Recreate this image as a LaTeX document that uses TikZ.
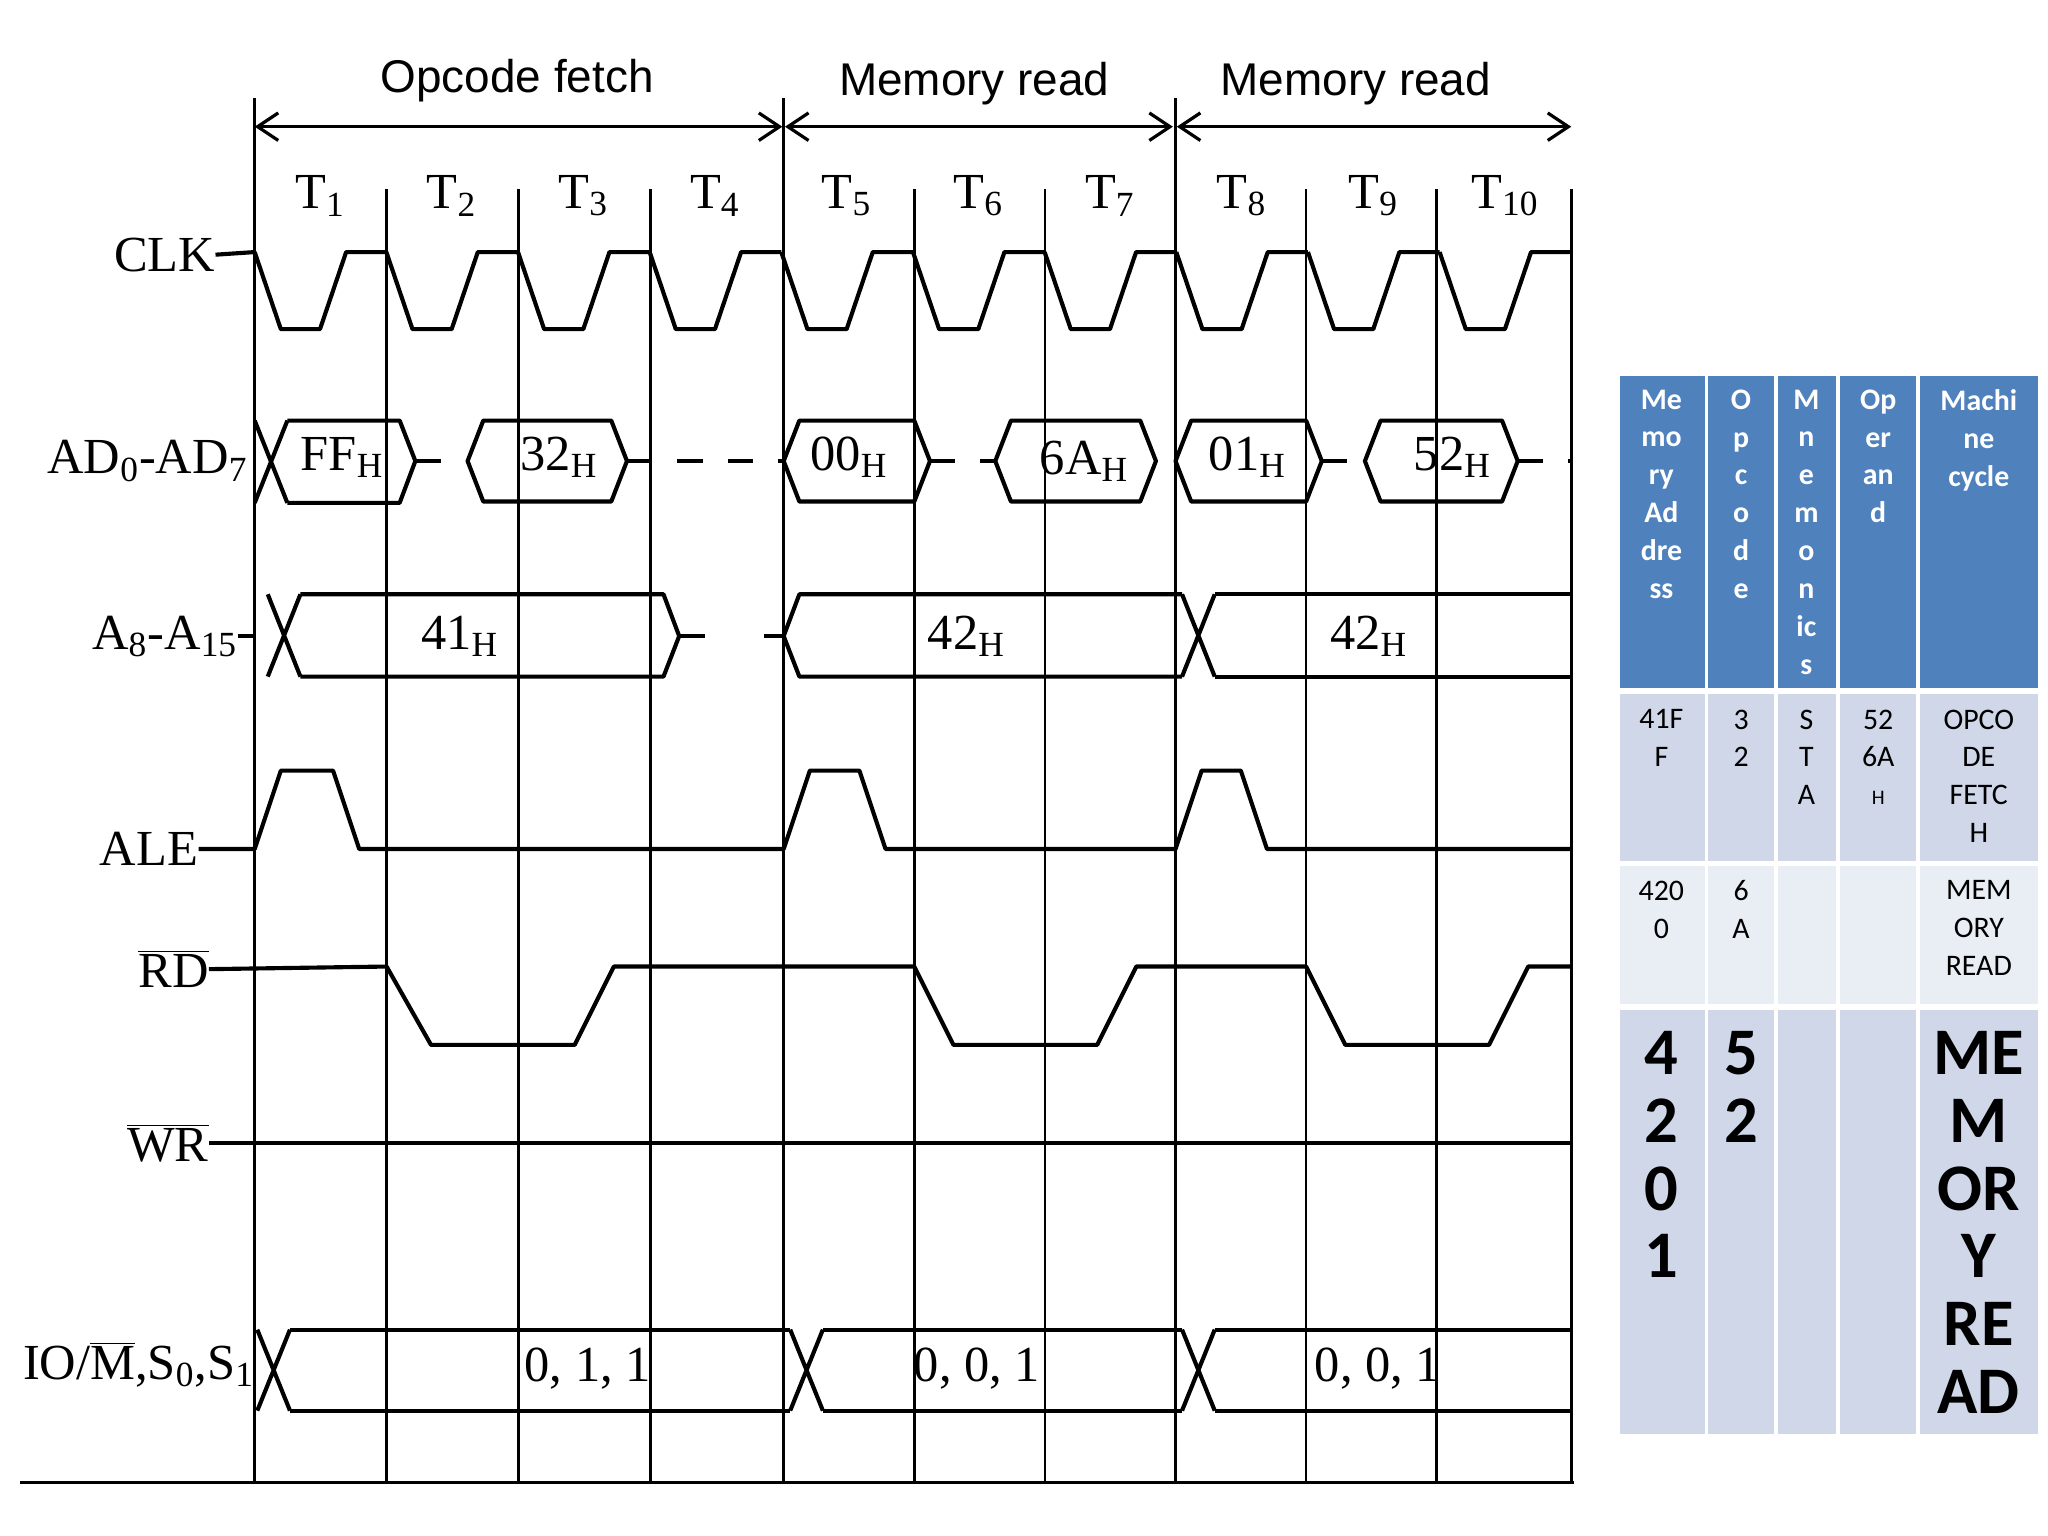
\documentclass[tikz,border=0pt]{standalone}
\usepackage{fontspec}
\setmainfont{Liberation Serif}
\newfontfamily\tabfont{Carlito}
\newfontfamily\headfont{Liberation Sans}
\usetikzlibrary{arrows.meta,positioning}
\definecolor{hdblue}{HTML}{4F81BD}
\definecolor{rowa}{HTML}{CFD7E8}
\definecolor{rowb}{HTML}{E9EDF4}

\newcommand{\busseg}[3]{% x1, x2, centre y
  \draw[wave] (#1,#3) -- ({#1+12},{#3-31}) -- ({#2-12},{#3-31}) -- (#2,#3)
    -- ({#2-12},{#3+31}) -- ({#1+12},{#3+31}) -- cycle;}
\newcommand{\sbs}[1]{\textsubscript{#1}}

\begin{document}
\begin{tikzpicture}[x=0.02cm, y=-0.02cm,
    every node/.style={inner sep=0pt},
    wave/.style={line width=1.8pt, line join=round},
    grid/.style={line width=1.1pt},
    sig/.style={font=\fontsize{22}{24}\selectfont, anchor=east},
    tee/.style={font=\fontsize{22}{24}\selectfont},
    phase/.style={font=\headfont\fontsize{20}{22}\selectfont},
    span/.style={line width=1.4pt, {Straight Barb[length=9pt,width=12pt]}-{Straight Barb[length=9pt,width=12pt]}},
    dashbus/.style={line width=1.8pt, dash pattern=on 11pt off 11pt},
    hd/.style={fill=hdblue, draw=none},
    cella/.style={fill=rowa, draw=none},
    cellb/.style={fill=rowb, draw=none},
    celltxt/.style={anchor=north, align=center, font=\tabfont\fontsize{13}{16.5}\selectfont},
    bigtxt/.style={anchor=north, align=center, font=\tabfont\bfseries\fontsize{29}{29.6}\selectfont}
]
\useasboundingbox (0,0) rectangle (1568,1176);

% machine cycles
\node[phase] (ofetch) at (396,62) {Opcode fetch};
\node[phase] (mread1) at (746,64) {Memory read};
\node[phase] (mread2) at (1038,64) {Memory read};
\draw[span] (195,97) -- (599,97);
\draw[span] (601,97) -- (898,97);
\draw[span] (901,97) -- (1203,97);
\foreach \x in {195,600,900}
    \draw[grid] (\x,75) -- (\x,145);

% T states
\foreach \x in {195,296,397,498,600,700,800,900,1000,1100,1203}
    \draw[grid] (\x,145) -- (\x,1135);
\foreach \i [count=\n] in {0,...,9}
    \node[tee] (t\n) at ({245+100.8*\i},150) {T\sbs{\n}};
\draw[grid] (15,1135) -- (1205,1135);

% CLK
\node[sig] (clk) at (165,195) {CLK};
\draw[wave] (clk.east) -- (195,193);
\foreach \i in {0,...,9}
    \draw[wave] ({195+100.8*\i},193) -- ({215+100.8*\i},252) -- ({245+100.8*\i},252)
        -- ({265+100.8*\i},193) -- ({295.8+100.8*\i},193);

% AD0-AD7
\node[sig] (ad) at (190,353) {AD\sbs{0}-AD\sbs{7}};
\draw[wave] (195,322) -- (220,385) (195,385) -- (220,322);
\draw[wave] (220,322) -- (306,322) -- (318,353) -- (306,385) -- (220,385);
\node[tee] (ff) at (262,350) {FF\sbs{H}};
\busseg{358}{480}{353}
\node[tee] (v32) at (428,350) {32\sbs{H}};
\busseg{600}{712}{353}
\node[tee] (v00) at (650,350) {00\sbs{H}};
\busseg{762}{885}{353}
\node[tee] (v6a) at (830,353) {6A\sbs{H}};
\busseg{900}{1012}{353}
\node[tee] (v01) at (955,350) {01\sbs{H}};
\busseg{1045}{1162}{353}
\node[tee] (v52) at (1112,350) {52\sbs{H}};
\foreach \a/\b in {318/358,480/600,712/762,1012/1045,1162/1203}
    \draw[dashbus] (\a,353) -- (\b,353);

% A8-A15
\node[sig] (ah) at (182,487) {A\sbs{8}-A\sbs{15}};
\draw[wave] (ah.east) -- (195,487);
\draw[wave] (205,455) -- (230,518) (205,518) -- (230,455);
\draw[wave] (230,455) -- (508,455) -- (520,487) -- (508,518) -- (230,518);
\draw[wave] (520,487) -- (540,487) (585,487) -- (600,487);
\draw[wave] (905,455) -- (612,455) -- (600,487) -- (612,518) -- (905,518);
\draw[wave] (905,455) -- (930,518) (905,518) -- (930,455);
\draw[wave] (930,455) -- (1203,455) (930,518) -- (1203,518);
\node[tee] (v41) at (352,487) {41\sbs{H}};
\node[tee] (v42a) at (740,487) {42\sbs{H}};
\node[tee] (v42b) at (1048,487) {42\sbs{H}};

% ALE
\node[sig] (ale) at (152,650) {ALE};
\draw[wave] (ale.east) -- (195,650) -- (215,590) -- (255,590) -- (275,650) -- (600,650)
    -- (620,590) -- (658,590) -- (678,650) -- (900,650) -- (920,590) -- (950,590)
    -- (970,650) -- (1203,650);

% RD
\node[sig] (rd) at (160,742) {$\overline{\mbox{RD}}$};
\draw[wave] (rd.east) -- (296,740) -- (330,800) -- (440,800) -- (470,740) -- (700,740)
    -- (730,800) -- (840,800) -- (870,740) -- (1000,740) -- (1030,800) -- (1140,800)
    -- (1170,740) -- (1203,740);

% WR
\node[sig] (wr) at (160,875) {$\overline{\mbox{WR}}$};
\draw[wave] (wr.east) -- (1203,875);

% IO/M, S0, S1
\node[sig] (iom) at (195,1045) {IO/$\overline{\mbox{M}}$,S\sbs{0},S\sbs{1}};
\foreach \a in {197,605,905}
    \draw[wave] (\a,1018) -- ({\a+25},1080) (\a,1080) -- ({\a+25},1018);
\foreach \a/\b in {222/605,630/905,930/1203}
    \draw[wave] (\a,1018) -- (\b,1018) (\a,1080) -- (\b,1080);
\node[tee] (s011) at (450,1048) {0, 1, 1};
\node[tee] (s001a) at (748,1048) {0, 0, 1};
\node[tee] (s001b) at (1055,1048) {0, 0, 1};

% table
\foreach \l/\r in {1240/1305,1308/1358,1361/1406,1409/1467,1470/1560} {
    \fill[hd] (\l,288) rectangle (\r,527);
    \fill[cella] (\l,531) rectangle (\r,659);
    \fill[cellb] (\l,663) rectangle (\r,769);
    \fill[cella] (\l,773) rectangle (\r,1098);
}
\begin{scope}[every node/.append style={text=white}]
\node[celltxt, font=\tabfont\bfseries\fontsize{13}{16.5}\selectfont] (h1) at (1272,298) {Me\\mo\\ry\\Ad\\dre\\ss};
\node[celltxt, font=\tabfont\bfseries\fontsize{13}{16.5}\selectfont] (h2) at (1333,298) {O\\p\\c\\o\\d\\e};
\node[celltxt, font=\tabfont\bfseries\fontsize{13}{16.5}\selectfont] (h3) at (1383,298) {M\\n\\e\\m\\o\\n\\ic\\s};
\node[celltxt, font=\tabfont\bfseries\fontsize{13}{16.5}\selectfont] (h4) at (1438,298) {Op\\er\\an\\d};
\node[celltxt, font=\tabfont\bfseries\fontsize{13}{16.5}\selectfont] (h5) at (1515,298) {Machi\\ne\\cycle};
\end{scope}
\node[celltxt] (r1a) at (1272,543) {41F\\F};
\node[celltxt] (r1b) at (1333,543) {3\\2};
\node[celltxt] (r1c) at (1383,543) {S\\T\\A};
\node[celltxt] (r1d) at (1438,543) {52\\6A\\{\fontsize{9}{10}\selectfont H}};
\node[celltxt] (r1e) at (1515,543) {OPCO\\DE\\FETC\\H};
\node[celltxt] (r2a) at (1272,674) {420\\0};
\node[celltxt] (r2b) at (1333,674) {6\\A};
\node[celltxt] (r2e) at (1515,674) {MEM\\ORY\\READ};
\node[bigtxt] (r3a) at (1272,789) {4\\2\\0\\1};
\node[bigtxt] (r3b) at (1333,789) {5\\2};
\node[bigtxt] (r3e) at (1515,789) {ME\\M\\OR\\Y\\RE\\AD};
\end{tikzpicture}
\end{document}
